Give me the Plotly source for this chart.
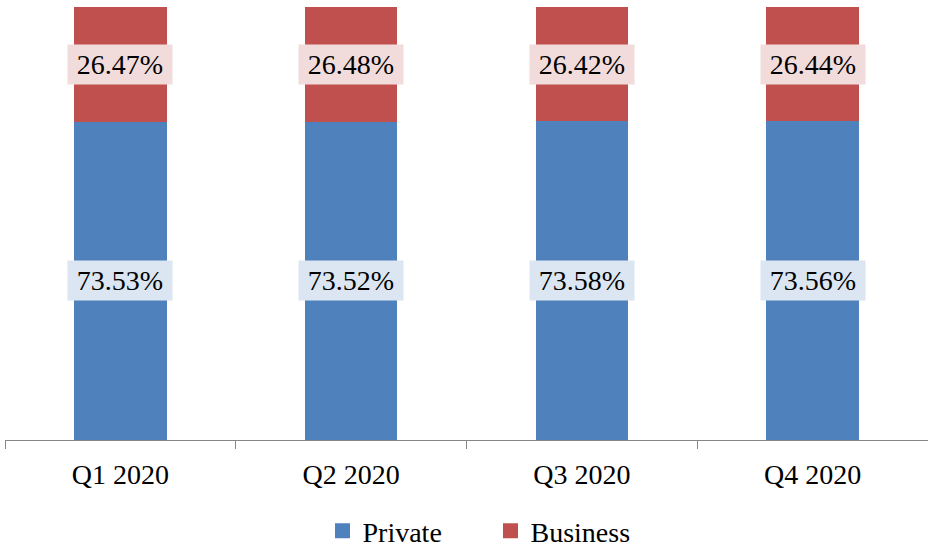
import plotly.graph_objects as go

quarters = ["Q1 2020", "Q2 2020", "Q3 2020", "Q4 2020"]
private = [73.53, 73.52, 73.58, 73.56]
business = [26.47, 26.48, 26.42, 26.44]

BLUE = "#4F81BD"
RED = "#C0504D"
BLUE_LIGHT = "#DCE6F2"
RED_LIGHT = "#F2DCDB"
FONT = "Liberation Serif"

fig = go.Figure()
fig.add_trace(go.Bar(x=quarters, y=private, name="Private", showlegend=False,
                     marker=dict(color=BLUE, line=dict(width=0))))
fig.add_trace(go.Bar(x=quarters, y=business, name="Business", showlegend=False,
                     marker=dict(color=RED, line=dict(width=0))))

# legend-only entries so the swatches are proper squares
for name, col in [("Private", BLUE), ("Business", RED)]:
    fig.add_trace(go.Scatter(x=[None], y=[None], mode="markers", name=name,
                             marker=dict(symbol="square", size=15, color=col)))

# value labels in a light tinted box, centred in each segment
for q, p, b in zip(quarters, private, business):
    for y, v, bg in [(p / 2, p, BLUE_LIGHT), (p + b / 2, b, RED_LIGHT)]:
        fig.add_annotation(
            x=q, y=y, text=f"{v:.2f}%", showarrow=False,
            font=dict(family=FONT, size=28, color="#000000"),
            bgcolor=bg, width=104, height=39, borderpad=0,
        )

fig.update_layout(
    barmode="stack",
    bargap=0.6,
    width=928, height=547,
    margin=dict(l=5, r=0, t=7, b=107, autoexpand=False),
    paper_bgcolor="white", plot_bgcolor="white",
    font=dict(family=FONT, size=28, color="#000000"),
    showlegend=True,
    legend=dict(orientation="h", x=0.526, xanchor="center", y=-0.21, yanchor="middle",
                font=dict(size=28), itemwidth=30, entrywidth=123, entrywidthmode="pixels",
                traceorder="normal"),
    xaxis=dict(showline=True, linecolor="#878787", linewidth=1, ticks="outside",
               tickson="boundaries", ticklen=8, tickcolor="#878787", showgrid=False,
               tickfont=dict(size=28), automargin=False, ticklabelstandoff=9),
    yaxis=dict(range=[0, 100], visible=False, showgrid=False, automargin=False),
)

fig.write_html("out.html", config={"displayModeBar": False},
               post_script="document.body.style.margin='0';")
